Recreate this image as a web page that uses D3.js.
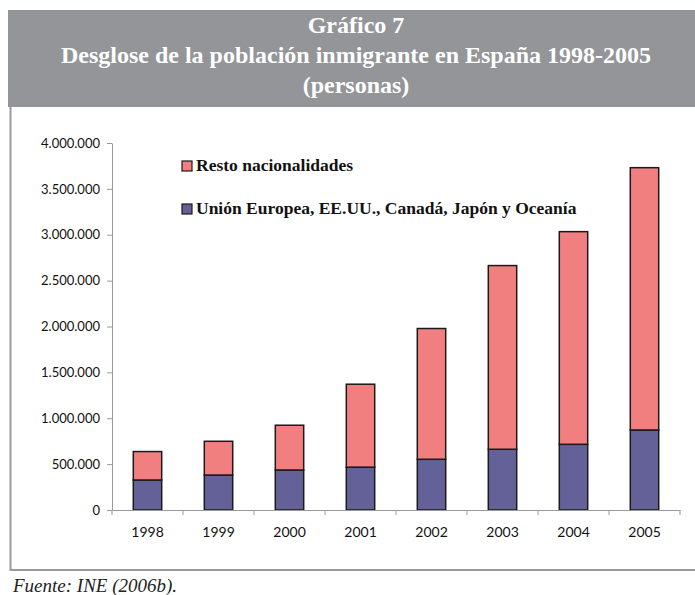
<!DOCTYPE html>
<html>
<head>
<meta charset="utf-8">
<script src="https://cdn.jsdelivr.net/npm/d3@7"></script>
<style>
	html, body { margin: 0; padding: 0; background: #fff; }
	svg { display: block; }
	.title { font-family: "Liberation Serif", serif; font-weight: bold; font-size: 24px; fill: #fff; }
	.legend text { font-family: "Liberation Serif", serif; font-weight: bold; font-size: 17.5px; fill: #111; }
	.axis text { font-family: Lato, "DejaVu Sans", sans-serif; font-size: 13px; fill: #111; }
	.axis path, .axis line { stroke: #9a9a9a; }
	.source { font-family: "Liberation Serif", "DejaVu Serif", serif; font-style: italic; font-size: 19px; fill: #222; }
</style>
</head>
<body>
<svg id="chart" width="695" height="595"></svg>
<script>

//------------------------------------------------------------------------------
// Data

var years = ['1998', '1999', '2000', '2001', '2002', '2003', '2004', '2005'];
var series = ['ue', 'resto'];
var seriesNames = ['Resto nacionalidades', 'Unión Europea, EE.UU., Canadá, Japón y Oceanía'];
var ue = [327000, 381000, 436000, 467000, 553000, 662000, 716000, 872000];
var resto = [310000, 368000, 488000, 904000, 1425000, 2002000, 2318000, 2859000];
var yTicks = [0, 500000, 1000000, 1500000, 2000000, 2500000, 3000000, 3500000, 4000000];
var titleLines = ['Gráfico 7', 'Desglose de la población inmigrante en España 1998-2005', '(personas)'];

var colors = { ue: '#646198', resto: '#f17f80' };

//------------------------------------------------------------------------------
// Frame

var svg = d3.select('#chart');

svg.append('rect')
	.attr('x', 8).attr('y', 10)
	.attr('width', 687).attr('height', 97)
	.attr('fill', '#939598');

svg.selectAll('.title')
	.data(titleLines)
	.enter().append('text')
	.attr('class', 'title')
	.attr('x', 356)
	.attr('y', function (d, i) { return 33 + i * 30; })
	.attr('text-anchor', 'middle')
	.text(function (d) { return d; });

svg.append('line')
	.attr('x1', 10.5).attr('x2', 10.5)
	.attr('y1', 107).attr('y2', 571)
	.attr('stroke', '#9a9a9a').attr('stroke-width', 2);

svg.append('line')
	.attr('x1', 10).attr('x2', 695)
	.attr('y1', 570).attr('y2', 570)
	.attr('stroke', '#9a9a9a').attr('stroke-width', 2);

svg.append('text')
	.attr('class', 'source')
	.attr('x', 13).attr('y', 592)
	.text('Fuente: INE (2006b).');

//------------------------------------------------------------------------------
// Chart

var x = d3.scaleBand().domain(years).range([112, 680]).paddingInner(0.6).paddingOuter(0.3);
var y = d3.scaleLinear().domain([0, 4000000]).range([510, 143]);

var fmt = function (v) { return d3.format(',')(v).replace(/,/g, '.'); };

svg.append('g')
	.attr('class', 'axis')
	.attr('transform', 'translate(112,0)')
	.call(d3.axisLeft(y).tickValues(yTicks).tickFormat(fmt).tickSize(5).tickSizeOuter(0))
	.call(function (g) { g.selectAll('text').attr('x', -12); });

var table = years.map(function (yr, i) { return { year: yr, ue: ue[i], resto: resto[i] }; });
var stacked = d3.stack().keys(series)(table);

svg.append('g')
	.selectAll('g')
	.data(stacked)
	.enter().append('g')
	.attr('fill', function (d) { return colors[d.key]; })
	.selectAll('rect')
	.data(function (d) { return d; })
	.enter().append('rect')
	.attr('x', function (d) { return x(d.data.year); })
	.attr('width', x.bandwidth())
	.attr('y', function (d) { return y(d[1]); })
	.attr('height', function (d) { return y(d[0]) - y(d[1]); })
	.attr('stroke', '#1a1a1a')
	.attr('stroke-width', 1.5);

var xAxis = svg.append('g')
	.attr('class', 'axis')
	.attr('transform', 'translate(0,510)')
	.call(d3.axisBottom(x).tickSize(0).tickPadding(17));
xAxis.selectAll('text').style('font-size', '14px');

// ticks between categories
xAxis.selectAll('.sep')
	.data(d3.range(years.length + 1))
	.enter().append('line')
	.attr('class', 'sep')
	.attr('x1', function (i) { return 112 + i * x.step(); })
	.attr('x2', function (i) { return 112 + i * x.step(); })
	.attr('y1', 0).attr('y2', 5);

//------------------------------------------------------------------------------
// Legend

var legend = svg.append('g').attr('class', 'legend');
var legendKeys = ['resto', 'ue'];

legendKeys.forEach(function (k, i) {
	var ly = 166 + i * 43;
	legend.append('rect')
		.attr('x', 182).attr('y', ly - 5)
		.attr('width', 10).attr('height', 10)
		.attr('fill', colors[k])
		.attr('stroke', '#1a1a1a').attr('stroke-width', 1.2);
	legend.append('text')
		.attr('x', 196).attr('y', ly + 5)
		.text(seriesNames[i]);
});

</script>
</body>
</html>
